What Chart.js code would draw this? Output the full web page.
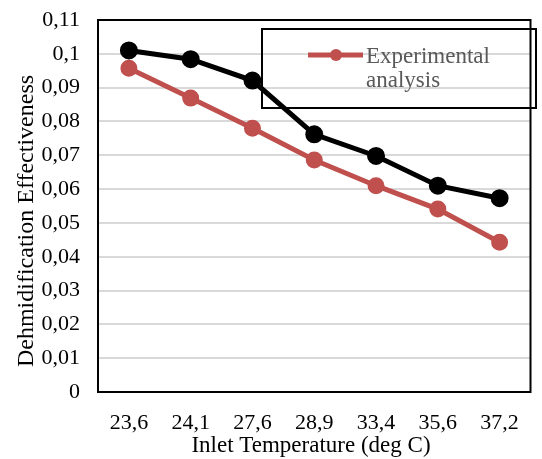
<!DOCTYPE html>
<html>
<head>
<meta charset="utf-8">
<script src="https://cdn.jsdelivr.net/npm/chart.js@4/dist/chart.umd.min.js"></script>
<style>
  body { margin: 0; background: #fff; }
  #wrap { width: 542px; height: 459px; }
</style>
</head>
<body>
<div id="wrap"><canvas id="myChart"></canvas></div>
<script>
var categories = ['23,6', '24,1', '27,6', '28,9', '33,4', '35,6', '37,2'];
var modelValues = [0.1010, 0.0984, 0.0921, 0.0762, 0.0698, 0.0610, 0.0573];
var experimentalValues = [0.0957, 0.0869, 0.0780, 0.0686, 0.0610, 0.0541, 0.0443];
var legendLines = ['Experimental', 'analysis'];
var xTitle = 'Inlet Temperature (deg C)';
var yTitle = 'Dehmidification Effectiveness';

function fmt(v) {
  return Number(v.toFixed(2)).toString().replace('.', ',');
}

// boxed legend sits under the lines (box is see-through)
var legendPlugin = {
  id: 'boxLegend',
  beforeDatasetsDraw: function (chart) {
    var ctx = chart.ctx;
    ctx.save();
    ctx.strokeStyle = '#000';
    ctx.lineWidth = 2;
    ctx.strokeRect(262, 29, 274, 79);
    ctx.strokeStyle = '#c0504d';
    ctx.lineWidth = 5;
    ctx.beginPath();
    ctx.moveTo(308, 55);
    ctx.lineTo(363, 55);
    ctx.stroke();
    ctx.fillStyle = '#c0504d';
    ctx.beginPath();
    ctx.arc(336, 55, 6, 0, Math.PI * 2);
    ctx.fill();
    ctx.fillStyle = '#595959';
    ctx.font = '23px "Liberation Serif"';
    ctx.textBaseline = 'alphabetic';
    ctx.textAlign = 'left';
    ctx.fillText(legendLines[0], 366, 63);
    ctx.fillText(legendLines[1], 366, 87);
    ctx.restore();
  }
};

// plot frame + axis titles
var framePlugin = {
  id: 'frame',
  afterDraw: function (chart) {
    var ctx = chart.ctx, a = chart.chartArea;
    ctx.save();
    ctx.strokeStyle = '#000';
    ctx.lineWidth = 2;
    ctx.strokeRect(a.left, a.top, a.right - a.left, a.bottom - a.top);

    ctx.fillStyle = '#000';
    ctx.textAlign = 'center';
    ctx.textBaseline = 'middle';
    ctx.font = '23px "Liberation Serif"';
    ctx.fillText(xTitle, 311, 446);

    ctx.translate(27, 221);
    ctx.rotate(-Math.PI / 2);
    ctx.font = '24px "Liberation Serif"';
    ctx.fillText(yTitle, 0, 0);
    ctx.restore();
  }
};

function noPad(scale) {
  scale.paddingTop = 0;
  scale.paddingBottom = 0;
  scale.paddingLeft = 0;
  scale.paddingRight = 0;
}

var ctx = document.getElementById('myChart');
var chart = new Chart(ctx, {
  type: 'line',
  data: {
    labels: categories,
    datasets: [{
      label: 'Model',
      data: modelValues,
      borderColor: '#000',
      backgroundColor: '#000',
      borderWidth: 5,
      pointRadius: 6.5,
      pointHoverRadius: 6.5,
      tension: 0
    }, {
      label: 'Experimental analysis',
      data: experimentalValues,
      borderColor: '#c0504d',
      backgroundColor: '#c0504d',
      borderWidth: 5,
      pointRadius: 6,
      pointHoverRadius: 6,
      tension: 0
    }]
  },
  options: {
    responsive: true,
    maintainAspectRatio: false,
    animation: false,
    layout: { padding: { top: 20, right: 1, left: 0, bottom: 0 } },
    plugins: {
      legend: { display: false },
      tooltip: { enabled: false }
    },
    scales: {
      x: {
        offset: true,
        grid: { display: false, drawTicks: false },
        border: { color: '#000', width: 2 },
        ticks: {
          color: '#000',
          font: { family: 'Liberation Serif', size: 22 },
          padding: 18,
          maxRotation: 0
        },
        afterFit: function (scale) { scale.height = 67; noPad(scale); }
      },
      y: {
        min: 0,
        max: 0.11,
        grid: { color: '#d9d9d9', lineWidth: 2, drawTicks: false },
        border: { color: '#000', width: 2 },
        ticks: {
          stepSize: 0.01,
          color: '#000',
          font: { family: 'Liberation Serif', size: 22 },
          padding: 18,
          callback: function (v) { return fmt(v); }
        },
        afterFit: function (scale) { scale.width = 98; noPad(scale); }
      }
    }
  },
  plugins: [legendPlugin, framePlugin]
});
</script>
</body>
</html>
